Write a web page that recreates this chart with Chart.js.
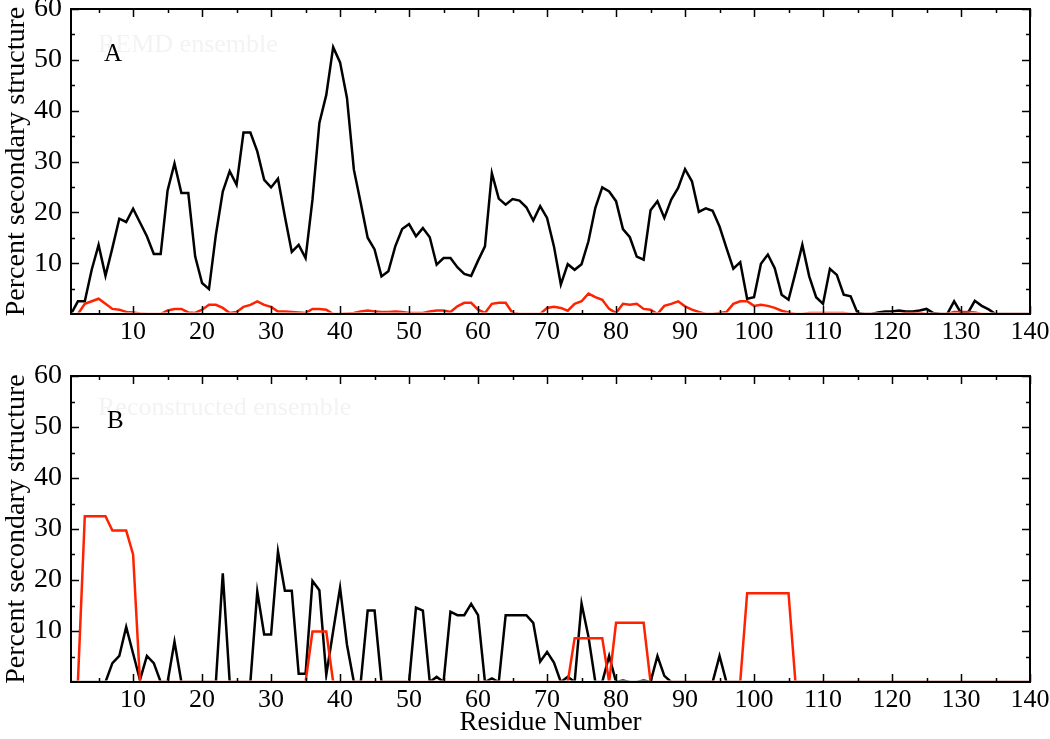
<!DOCTYPE html>
<html>
<head>
<meta charset="utf-8">
<script src="https://cdn.jsdelivr.net/npm/chart.js@4.4.0/dist/chart.umd.min.js"></script>
<style>
  html, body { margin:0; padding:0; background:#fff; }
  #wrap { position:relative; width:1050px; height:739px; overflow:hidden; }
  #cA { position:absolute; left:0; top:0; }
  #cB { position:absolute; left:0; top:350px; }
</style>
</head>
<body>
<div id="wrap">
  <canvas id="cA" width="1050" height="350"></canvas>
  <canvas id="cB" width="1050" height="389"></canvas>
</div>
<script>
// ---------- DATA ----------
const residues = [1,2,3,4,5,6,7,8,9,10,11,12,13,14,15,16,17,18,19,20,
  21,22,23,24,25,26,27,28,29,30,31,32,33,34,35,36,37,38,39,40,
  41,42,43,44,45,46,47,48,49,50,51,52,53,54,55,56,57,58,59,60,
  61,62,63,64,65,66,67,68,69,70,71,72,73,74,75,76,77,78,79,80,
  81,82,83,84,85,86,87,88,89,90,91,92,93,94,95,96,97,98,99,100,
  101,102,103,104,105,106,107,108,109,110,111,112,113,114,115,116,117,118,119,120,
  121,122,123,124,125,126,127,128,129,130,131,132,133,134,135,136,137,138,139,140];

// Panel A (REMD ensemble)
const remdBlack = [0,2.5,2.5,8.7,13.6,7.5,13,18.75,18.1,20.7,
  18,15.3,11.8,11.8,24.3,29.6,23.8,23.8,11.3,6.1,
  4.9,15.6,24.1,28.1,25.4,35.7,35.7,32,26.4,24.9,
  26.6,19.2,12.2,13.6,11,22.5,37.6,43.1,52.5,49.5,
  42.5,28.4,21.8,15,12.7,7.4,8.4,13.3,16.7,17.7,
  15.3,16.9,15.1,9.7,11,11,9.2,7.9,7.5,10.5,
  13.3,27.7,22.7,21.5,22.6,22.3,21,18.4,21.2,18.9,
  13.3,5.8,9.8,8.7,9.8,14.3,20.9,24.9,24.1,22.2,
  16.7,15.1,11.3,10.7,20.4,22.2,18.9,22.5,24.8,28.5,
  26.1,20.1,20.8,20.3,17.2,13,8.9,10.2,3,3.3,
  9.9,11.7,9,3.8,2.8,8.1,13.6,7.4,3.3,2,
  8.9,7.7,3.8,3.5,0.2,0,0,0.3,0.5,0.5,
  0.7,0.5,0.5,0.7,1,0.2,0,0,2.5,0.2,
  0.2,2.6,1.6,0.9,0,0,0,0,0,0];
const remdRed = [null,0,2,2.5,3,2,1,0.85,0.4,0.3,
  0.1,0,0,0,0.7,1,1,0.3,0.2,0.85,
  1.8,1.8,1.2,0.2,0.4,1.4,1.8,2.5,1.8,1.4,
  0.5,0.5,0.4,0.3,0.2,1,1,0.85,0,0,
  0.1,0.2,0.5,0.7,0.5,0.4,0.4,0.5,0.4,0.2,
  0.2,0.2,0.5,0.7,0.7,0.4,1.5,2.2,2.2,0.85,
  0.2,2,2.2,2.2,0.2,0,0,0,0,1.2,
  1.4,1.2,0.65,2,2.5,4,3.3,2.8,1,0.2,
  2,1.8,2,1,0.85,0,1.6,2,2.5,1.5,
  0.85,0.4,0,0,0.2,0.4,2,2.5,2.5,1.6,
  1.8,1.6,1.2,0.65,0.3,0,0,0.2,0.2,0.2,
  0.2,0.2,0.2,0,0,0,0,0,0,0,
  0,0.2,0.2,0.2,0,0,0,0,0.4,0.4,
  0.4,0.3,0,0,0,0,0,0,0,0];

// Panel B (Reconstructed ensemble)
const reconBlack = [0,0,0,0,0,0,3.7,5.1,10.8,5.6,
  0.4,5.1,3.7,0,0,7.9,0,0,0,0,
  0,0,21.3,0,0,0,0,17.7,9.3,9.3,
  25.6,17.9,17.9,1.6,1.6,19.8,18,1.4,10,18.5,
  7.3,0,0,14,14,0,0,0,0,0,
  14.6,14,0,1,0,13.8,13.1,13.1,15.3,13.1,
  0,0.7,0,13.1,13.1,13.1,13.1,11.6,4,5.9,
  3.8,0,1,0,15.4,8.9,0,0,5.1,0,
  0.3,0,0,0.3,0,5.1,1.2,0,0,0,
  0,0,0,0,5.1,0,0,0,0,0,
  0,0,0,0,0,0,0,0,0,0,
  0,0,0,0,0,0,0,0,0,0,
  0,0,0,0,0,0,0,0,0,0,
  0,0,0,0,0,0,0,0,0,0];
const reconRed = [null,0,32.5,32.5,32.5,32.5,29.7,29.7,29.7,25,
  0,0,0,0,0,0,0,0,0,0,
  0,0,0,0,0,0,0,0,0,0,
  0,0,0,0,0,9.9,9.9,9.9,0,0,
  0,0,0,0,0,0,0,0,0,0,
  0,0,0,0,0,0,0,0,0,0,
  0,0,0,0,0,0,0,0,0,0,
  0,0,0,8.6,8.6,8.6,8.6,8.6,0,11.6,
  11.6,11.6,11.6,11.6,0,0,0,0,0,0,
  0,0,0,0,0,0,0,0,17.4,17.4,
  17.4,17.4,17.4,17.4,17.4,0,0,0,0,0,
  0,0,0,0,0,0,0,0,0,0,
  0,0,0,0,0,0,0,0,0,0,
  0,0,0,0,0,0,0,0,0,0];

const xTickValues = [10,20,30,40,50,60,70,80,90,100,110,120,130,140];
const xMinorTicks = [5,15,25,35,45,55,65,75,85,95,105,115,125,135];
const yTickValues = [10,20,30,40,50,60];
const yMinorTicks = [5,15,25,35,45,55];

const panelTitles = ['REMD ensemble', 'Reconstructed ensemble'];
const panelLetters = ['A', 'B'];

// ---------- CHART ----------
const SERIF = '"Liberation Serif", "Times New Roman", serif';
const BLACK = '#000000';
const RED = '#ff2200';

function pts(vals) { return residues.map((r, i) => ({ x: r, y: vals[i] })); }

function framePlugin(letter, faint) {
  return {
    id: 'frame' + letter,
    beforeDatasetsDraw(chart) {
      const { ctx, chartArea } = chart;
      ctx.save();
      ctx.textBaseline = 'middle';
      ctx.textAlign = 'left';
      ctx.font = '26px ' + SERIF;
      ctx.fillStyle = '#f3f3f3';
      ctx.fillText(faint, chartArea.left + 27, chartArea.top + (letter === 'A' ? 36 : 32));
      ctx.font = '25px ' + SERIF;
      ctx.fillStyle = '#000';
      ctx.fillText(letter, chartArea.left + (letter === 'A' ? 33 : 36), chartArea.top + 45);
      ctx.restore();
      // clip the data lines so values at zero sit under the axis frame
      const b = Math.round(chartArea.bottom);
      ctx.save();
      ctx.beginPath();
      ctx.rect(chartArea.left, chartArea.top, chartArea.right - chartArea.left, b - 1.5 - chartArea.top);
      ctx.clip();
    },
    afterDatasetsDraw(chart) {
      const { ctx, chartArea, scales: { x, y } } = chart;
      ctx.restore();
      const left = Math.round(chartArea.left), right = Math.round(chartArea.right);
      const top = Math.round(chartArea.top), bottom = Math.round(chartArea.bottom);
      ctx.save();
      ctx.strokeStyle = '#000';
      ctx.lineWidth = 1.5;
      ctx.beginPath();
      const drawX = (v, len) => {
        const px = Math.round(x.getPixelForValue(v)) + 0.5;
        ctx.moveTo(px, bottom); ctx.lineTo(px, bottom - len);
        ctx.moveTo(px, top); ctx.lineTo(px, top + len);
      };
      const drawY = (v, len) => {
        const py = Math.round(y.getPixelForValue(v)) + 0.5;
        ctx.moveTo(left, py); ctx.lineTo(left + len, py);
        ctx.moveTo(right, py); ctx.lineTo(right - len, py);
      };
      xTickValues.forEach(v => drawX(v, 8));
      xMinorTicks.forEach(v => drawX(v, 4));
      yTickValues.forEach(v => drawY(v, 8));
      yMinorTicks.forEach(v => drawY(v, 4));
      ctx.stroke();
      ctx.lineWidth = 2;
      ctx.strokeRect(left, top, right - left, bottom - top);
      ctx.restore();
    }
  };
}

function makeChart(id, black, red, letter, faint, opts) {
  return new Chart(document.getElementById(id), {
    type: 'line',
    data: {
      datasets: [
        { data: pts(red), borderColor: RED, borderWidth: 2.5, pointRadius: 0, tension: 0, fill: false, spanGaps: false },
        { data: pts(black), borderColor: BLACK, borderWidth: 2.5, pointRadius: 0, tension: 0, fill: false, spanGaps: false }
      ]
    },
    options: {
      responsive: false,
      animation: false,
      devicePixelRatio: 1,
      layout: { padding: { left: 0, right: 20, top: opts.padTop, bottom: 0 } },
      plugins: { legend: { display: false }, tooltip: { enabled: false } },
      scales: {
        x: {
          type: 'linear', min: 1, max: 140,
          grid: { display: false, drawTicks: false },
          border: { display: false },
          afterBuildTicks: s => { s.ticks = xTickValues.map(v => ({ value: v })); },
          afterFit: s => { s.height = opts.xHeight; s.paddingLeft = 0; s.paddingRight = 0; },
          ticks: { color: '#000', font: { family: SERIF, size: 26 }, padding: 3, maxRotation: 0, autoSkip: false },
          title: { display: opts.showXTitle, text: 'Residue Number', color: '#000', font: { family: SERIF, size: 27 }, padding: { top: 0, bottom: 0 } }
        },
        y: {
          type: 'linear', min: 0, max: 60,
          grid: { display: false, drawTicks: false },
          border: { display: false },
          afterBuildTicks: s => { s.ticks = yTickValues.map(v => ({ value: v })); },
          afterFit: s => { s.width = 71; s.paddingTop = 0; s.paddingBottom = 0; },
          ticks: { color: '#000', font: { family: SERIF, size: 28 }, padding: 9 },
          title: { display: true, text: 'Percent secondary structure', color: '#000', font: { family: SERIF, size: 28 }, padding: { top: 0, bottom: 0 } }
        }
      }
    },
    plugins: [framePlugin(letter, faint)]
  });
}

makeChart('cA', remdBlack, remdRed, panelLetters[0], panelTitles[0], { padTop: 9, xHeight: 36, showXTitle: false });
makeChart('cB', reconBlack, reconRed, panelLetters[1], panelTitles[1], { padTop: 26, xHeight: 57, showXTitle: true });
</script>
</body>
</html>
